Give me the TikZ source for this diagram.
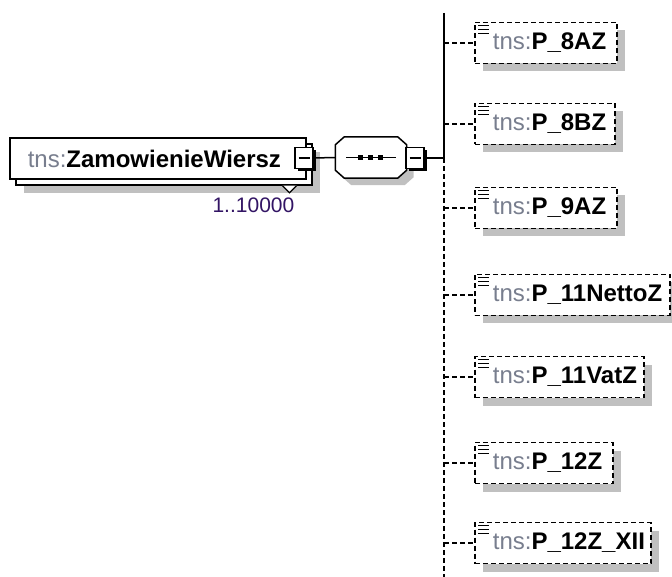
\documentclass[tikz,border=0pt]{standalone}
\usepackage{fontspec}
\setmainfont{Liberation Sans}
\usetikzlibrary{shadows,calc}
\definecolor{tnsgray}{RGB}{120,126,142}
\definecolor{shadowgray}{RGB}{192,192,192}
\definecolor{occurscol}{RGB}{50,20,100}
\newcommand{\elname}[1]{{\color{tnsgray}tns:}\textbf{#1}}
\tikzstyle{element} = [rectangle, draw=black, fill=white, line width=1.5pt, minimum height=41pt, inner xsep=0pt, font=\fontsize{24}{28}\selectfont, general shadow={fill=shadowgray, shadow xshift=14pt, shadow yshift=-14pt}, general shadow={draw=black, fill=white, line width=1.5pt, shadow xshift=6pt, shadow yshift=-6pt}]
\tikzstyle{childbox} = [rectangle, draw=black, fill=white, line width=1.7pt, dash pattern=on 5pt off 3pt, minimum height=41pt, inner xsep=0pt, font=\fontsize{24}{28}\selectfont, general shadow={fill=shadowgray, shadow xshift=8pt, shadow yshift=-8pt}]
\tikzstyle{collapse} = [rectangle, draw=black, fill=white, line width=1.5pt, minimum width=18pt, minimum height=21pt, inner sep=0pt, general shadow={fill=black, shadow xshift=2.5pt, shadow yshift=-2.5pt}]
\tikzstyle{sequence} = [rectangle, minimum width=71pt, minimum height=41pt, inner sep=0pt]
\tikzstyle{link} = [line width=1.5pt]
\tikzstyle{optlink} = [line width=1.5pt, dash pattern=on 5pt off 3pt]
\tikzstyle{occurs} = [font=\fontsize{21}{24}\selectfont, text=occurscol, inner sep=0pt]
\begin{document}
\begin{tikzpicture}[x=1pt, y=-1pt]
  \useasboundingbox (0,0) rectangle (672,577);
  \node (main)[element, anchor=west] at (9,158.5) {\makebox[296pt][l]{\hspace*{18pt}\elname{ZamowienieWiersz}}};
  \filldraw[fill=white, line width=1.2pt] ($(main.south east)+(-24,6)$) -- ($(main.south east)+(-17,13)$) -- ($(main.south east)+(-10,6)$);
  \node (occ)[occurs, anchor=north east] at ($(main.south east)+(-12,18)$) {1..10000};
  \node (mainminus)[collapse] at (304,158) {\rule{11pt}{1.2pt}};
  \node (seq)[sequence] at (371,157.5) {};
  \filldraw[fill=white, line width=1.5pt, general shadow={fill=shadowgray, shadow xshift=7pt, shadow yshift=-7pt}]
    ($(seq.north west)+(9,0)$) -- ($(seq.north east)+(-9,0)$) -- ($(seq.north east)+(0,8)$) -- ($(seq.south east)+(0,-8)$)
    -- ($(seq.south east)+(-9,0)$) -- ($(seq.south west)+(9,0)$) -- ($(seq.south west)+(0,-8)$) -- ($(seq.north west)+(0,8)$) -- cycle;
  \draw[link] (seq.center) ++(-25,0) -- ++(50,0);
  \foreach \d in {-11,-1,9}
    \fill ($(seq.center)+(\d,0)$) +(-2.5,-2.5) rectangle +(2.5,2.5);
  \node (seqminus)[collapse] at (415,158) {\rule{11pt}{1.2pt}};
  \coordinate (bartop) at (444,13);
  \coordinate (barmid) at (444,158);
  \coordinate (barbot) at (444,577);
  \draw[link] (mainminus.east) -- (seq.west);
  \draw[link] (seqminus.east) -- (barmid);
  \draw[line width=2pt] (bartop) -- (barmid);
  \draw[line width=2pt, dash pattern=on 5pt off 3pt] (barmid) -- (barbot);
  \foreach \n/\y/\w/\t in {c1/43/142/P\_8AZ, c2/124/140/P\_8BZ, c3/208/142/P\_9AZ, c4/295/195/P\_11NettoZ, c5/377/169/P\_11VatZ, c6/463/138/P\_12Z, c7/543/176/P\_12Z\_XII} {
    \node (\n)[childbox, anchor=west] at (474,\y) {\makebox[\w pt][l]{\hspace*{18pt}\elname{\t}}};
    \draw[optlink] (barmid |- \n.west) -- (\n.west);
    \foreach \k in {4,8,12}
      \draw[line width=1pt] ($(\n.north west)+(4,\k)$) -- ++(11,0);
  }
\end{tikzpicture}
\end{document}
